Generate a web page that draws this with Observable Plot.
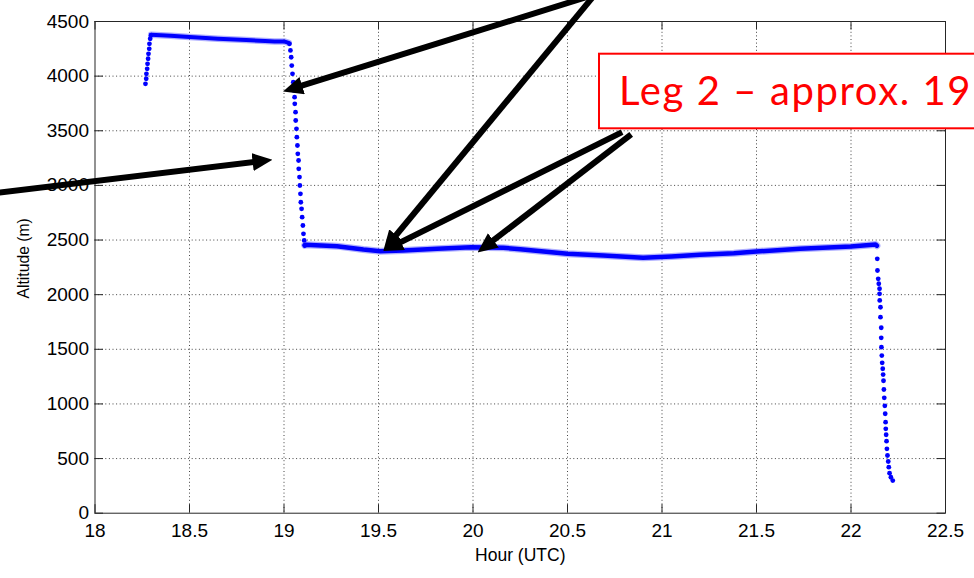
<!DOCTYPE html>
<html>
<head>
<meta charset="utf-8">
<script src="https://cdn.jsdelivr.net/npm/d3@7"></script>
<script src="https://cdn.jsdelivr.net/npm/@observablehq/plot@0.6"></script>
<style>
  html, body { margin: 0; padding: 0; background: #fff; overflow: hidden; }
  #chart { position: relative; width: 974px; height: 578px; overflow: hidden; }
</style>
</head>
<body>
<div id="chart"></div>
<script>
// Axis ticks
const tickHours = [18, 18.5, 19, 19.5, 20, 20.5, 21, 21.5, 22, 22.5];
const tickAltitudes = [0, 500, 1000, 1500, 2000, 2500, 3000, 3500, 4000, 4500];

// Flight track: [hour UTC, altitude m]
const climbOut = [
  [18.267, 3930], [18.271, 3976], [18.272, 4021], [18.276, 4067], [18.278, 4113],
  [18.281, 4159], [18.283, 4204], [18.287, 4250], [18.288, 4296], [18.292, 4342],
  [18.297, 4375]
];
const levelLeg1 = [
  [18.297, 4378], [18.40, 4370], [18.50, 4358], [18.65, 4343], [18.80, 4330],
  [18.90, 4322], [18.95, 4318], [19.00, 4318], [19.025, 4305]
];
const descent1 = [
  [19.029, 4296], [19.034, 4235], [19.038, 4173], [19.041, 4097], [19.045, 4021],
  [19.049, 3945], [19.052, 3869], [19.056, 3807], [19.057, 3747], [19.061, 3670],
  [19.062, 3594], [19.066, 3518], [19.068, 3441], [19.071, 3365], [19.073, 3289],
  [19.077, 3228], [19.078, 3152], [19.082, 3076], [19.084, 2999], [19.087, 2923],
  [19.089, 2846], [19.093, 2786], [19.096, 2709], [19.100, 2633], [19.103, 2557],
  [19.107, 2496], [19.110, 2450]
];
const levelLeg2 = [
  [19.110, 2452], [19.114, 2456], [19.28, 2444], [19.42, 2413], [19.51, 2398],
  [19.63, 2404], [19.81, 2420], [19.99, 2435], [20.16, 2429], [20.25, 2416],
  [20.50, 2374], [20.69, 2358], [20.90, 2337], [21.05, 2349], [21.20, 2365],
  [21.38, 2380], [21.50, 2395], [21.73, 2420], [22.00, 2441], [22.13, 2459],
  [22.137, 2448]
];
const descent2 = [
  [22.139, 2328], [22.140, 2221], [22.144, 2145], [22.147, 2100], [22.151, 2054],
  [22.151, 2008], [22.152, 1947], [22.156, 1885], [22.156, 1794], [22.160, 1697],
  [22.160, 1605], [22.161, 1519], [22.163, 1443], [22.165, 1376], [22.168, 1322],
  [22.170, 1269], [22.172, 1212], [22.174, 1132], [22.176, 1056], [22.179, 983],
  [22.181, 910], [22.183, 833], [22.184, 772], [22.186, 718], [22.188, 659],
  [22.190, 589], [22.193, 528], [22.197, 473], [22.200, 421], [22.204, 366],
  [22.211, 329], [22.221, 299]
];

// Callout arrows, in hour / altitude units (tail -> head)
const callouts = [
  {x1: 20.595, y1: 4720, x2: 18.995, y2: 3859},
  {x1: 20.632, y1: 4720, x2: 19.526, y2: 2404},
  {x1: 17.394, y1: 2913, x2: 18.939, y2: 3235},
  {x1: 20.789, y1: 3487, x2: 19.524, y2: 2400},
  {x1: 20.837, y1: 3466, x2: 20.024, y2: 2386}
];

const calloutText = "Leg 2 \u2013 approx. 19";

// Layout
const W = 974, H = 578;
const mTop = 21, mRight = 29, mBottom = 65.3, mLeft = 94.5;
const innerW = W - mLeft - mRight;
const innerH = H - mTop - mBottom;
const tickLen = 8.5;
const axisInk = "#262626";
const gridInk = "#444";
const blue = "#0000ff";
const halo = "#7070ff";

const px = (d) => d[0];
const py = (d) => d[1];
const fmt = (d) => String(d);

const plot = Plot.plot({
  width: W,
  height: H,
  marginTop: mTop,
  marginRight: mRight,
  marginBottom: mBottom,
  marginLeft: mLeft,
  x: {domain: [18, 22.5]},
  y: {domain: [0, 4500]},
  style: {fontFamily: "'Liberation Sans', Arial, sans-serif", background: "#fff", color: "#000"},
  marks: [
    // dotted grid
    Plot.ruleX(tickHours.slice(1, -1), {stroke: gridInk, strokeWidth: 1, strokeDasharray: "1 2.6"}),
    Plot.ruleY(tickAltitudes.slice(1, -1), {stroke: gridInk, strokeWidth: 1, strokeDasharray: "1 2.6"}),
    Plot.frame({stroke: axisInk, strokeWidth: 1}),
    // inward ticks on all four sides
    Plot.ruleX(tickHours, {insetTop: innerH - tickLen, stroke: axisInk}),
    Plot.ruleX(tickHours, {insetBottom: innerH - tickLen, stroke: axisInk}),
    Plot.ruleY(tickAltitudes, {insetRight: innerW - tickLen, stroke: axisInk}),
    Plot.ruleY(tickAltitudes, {insetLeft: innerW - tickLen, stroke: axisInk}),
    Plot.axisX(tickHours, {tickSize: 0, tickPadding: 10, fontSize: 19, tickFormat: fmt, label: null}),
    Plot.axisY(tickAltitudes, {tickSize: 0, tickPadding: 6, fontSize: 19, tickFormat: fmt, label: null}),
    Plot.text(["Hour (UTC)"], {text: (d) => d, frameAnchor: "bottom", textAnchor: "middle", dy: 42, lineAnchor: "middle", fontSize: 17.5}),
    Plot.text(["Altitude (m)"], {text: (d) => d, frameAnchor: "left", textAnchor: "middle", rotate: -90, dx: -71, dy: -9, lineAnchor: "middle", fontSize: 15.7}),
    // level legs
    Plot.line(levelLeg1, {x: px, y: py, stroke: halo, strokeWidth: 6.5, strokeOpacity: 0.55, strokeLinejoin: "round", strokeLinecap: "round"}),
    Plot.line(levelLeg2, {x: px, y: py, stroke: halo, strokeWidth: 7, strokeOpacity: 0.55, strokeLinejoin: "round", strokeLinecap: "round"}),
    Plot.line(levelLeg1, {x: px, y: py, stroke: blue, strokeWidth: 4, strokeLinejoin: "round", strokeLinecap: "round"}),
    Plot.line(levelLeg2, {x: px, y: py, stroke: blue, strokeWidth: 4.5, strokeLinejoin: "round", strokeLinecap: "round"}),
    // climb and descent samples
    Plot.dot(climbOut, {x: px, y: py, r: 2.4, fill: blue, stroke: null}),
    Plot.dot(descent1, {x: px, y: py, r: 2.4, fill: blue, stroke: null}),
    Plot.dot(descent2, {x: px, y: py, r: 2.4, fill: blue, stroke: null}),
    // callout arrows
    Plot.link(callouts, {x1: "x1", y1: "y1", x2: "x2", y2: "y2", stroke: "#000", strokeWidth: 6})
  ]
});

document.getElementById("chart").appendChild(plot);

// Filled arrowheads for the callouts
const svg = d3.select(plot);
const defs = svg.insert("defs", ":first-child");
defs.append("marker")
  .attr("id", "callout-head")
  .attr("viewBox", "0 0 20 18")
  .attr("refX", 20)
  .attr("refY", 9)
  .attr("markerWidth", 20)
  .attr("markerHeight", 18)
  .attr("markerUnits", "userSpaceOnUse")
  .attr("orient", "auto")
  .append("path")
  .attr("d", "M0,0L20,9L0,18Z")
  .attr("fill", "#000")
  .attr("stroke", "none");

svg.selectAll('g[aria-label="link"] path').each(function () {
  const len = this.getTotalLength();
  this.setAttribute("stroke-dasharray", `${len - 12} ${len + 20}`);
  this.setAttribute("marker-end", "url(#callout-head)");
});

// Red label box (runs off the right edge)
const box = svg.append("g").attr("text-anchor", "start");
box.append("rect")
  .attr("x", 599).attr("y", 53.7)
  .attr("width", 420).attr("height", 74.6)
  .attr("fill", "#fff").attr("stroke", "#ff0000").attr("stroke-width", 2);
box.append("text")
  .attr("x", 619).attr("y", 105)
  .attr("text-anchor", "start")
  .attr("fill", "#ff0000")
  .attr("font-family", "Lato, 'Open Sans', sans-serif")
  .attr("font-size", 40)
  .attr("letter-spacing", 1.6)
  .text(calloutText);
</script>
</body>
</html>
